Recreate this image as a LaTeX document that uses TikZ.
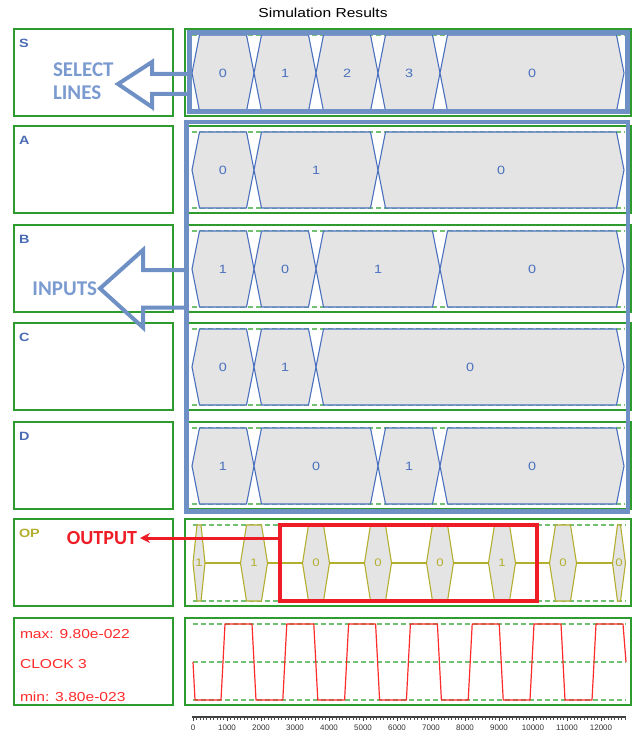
\documentclass[tikz,border=0pt]{standalone}
\usepackage{fontspec}
\setmainfont{Liberation Sans}[FakeStretch=1.2]
\newfontfamily\ejefont{Liberation Sans}
\newfontfamily\notafont{Carlito}
\usetikzlibrary{positioning,arrows.meta}
\definecolor{verde}{HTML}{2E9B2E}
\definecolor{guiaverde}{HTML}{72C072}
\definecolor{azulbus}{HTML}{4A70BE}
\definecolor{grisbus}{HTML}{E4E4E4}
\definecolor{azulmarco}{HTML}{6F90C4}
\definecolor{azulnota}{HTML}{7B9BD0}
\definecolor{azultexto}{HTML}{4A6CB4}
\definecolor{oliva}{HTML}{B4AE2E}
\definecolor{rojo}{HTML}{FF2A2A}
\definecolor{rojocaja}{HTML}{EE1C24}

% one bus row: name, top y, then a/b/value per segment
\newcommand{\busfila}[3]{%
  \draw[guia] (192,#2+6) -- (625,#2+6) (192,#2+82) -- (625,#2+82);
  \foreach \a/\b/\v [count=\i] in {#3}{
    \draw[tramo] (\a,#2+44) -- (\a+7.5,#2+6) -- (\b-7.5,#2+6) -- (\b,#2+44) -- (\b-7.5,#2+82) -- (\a+7.5,#2+82) -- cycle;
    \node[valor] (#1\i) at ({(\a+\b)/2},#2+44) {\v};
  }}

\begin{document}
\begin{tikzpicture}[x=1pt, y=-1pt, node distance=12pt,
  every node/.style={inner sep=0pt, outer sep=0pt},
  caja/.style={draw=verde, line width=1.1pt, minimum width=159pt, minimum height=87pt},
  panel/.style={caja, minimum width=446pt},
  nombre/.style={font=\bfseries\fontsize{12}{14}\selectfont, text=azultexto, anchor=west},
  guia/.style={guiaverde, line width=1.1pt, dash pattern=on 5pt off 3pt},
  tramo/.style={draw=azulbus, fill=grisbus, line width=1.1pt},
  valor/.style={font=\fontsize{12}{14}\selectfont, text=azulbus},
  marco/.style={draw=azulmarco, line width=4.5pt},
  bloque/.style={draw=azulmarco, line width=4pt, line join=miter},
  nota/.style={font=\notafont\bfseries\fontsize{21}{23}\selectfont, text=azulnota},
  tramoop/.style={draw=oliva, fill=grisbus, line width=1.1pt},
  reloj/.style={font=\fontsize{13}{15}\selectfont, text=rojo, anchor=west},
  numero/.style={font=\ejefont\fontsize{8}{9}\selectfont, text=black!80}]
\useasboundingbox (0,0) rectangle (632,733);
\node[font=\fontsize{13}{15}\selectfont] (titulo) at (323,13) {Simulation Results};

% rows
\node[caja] (cS) at (93.5,72.5) {};  \node[panel, right=of cS] (pS) {};
\node[caja] (cA) at (93.5,169.5) {}; \node[panel, right=of cA] (pA) {};
\node[caja] (cB) at (93.5,268.5) {}; \node[panel, right=of cB] (pB) {};
\node[caja] (cC) at (93.5,366.5) {}; \node[panel, right=of cC] (pC) {};
\node[caja] (cD) at (93.5,465.5) {}; \node[panel, right=of cD] (pD) {};
\node[caja] (cO) at (93.5,562.5) {}; \node[panel, right=of cO] (pO) {};
\node[caja] (cK) at (93.5,661.5) {}; \node[panel, right=of cK] (pK) {};

\node[nombre] (nS) at (19,43) {S};
\node[nombre] (nA) at (19,140) {A};
\node[nombre] (nB) at (19,239) {B};
\node[nombre] (nC) at (19,337) {C};
\node[nombre] (nD) at (19,436) {D};
\node[nombre, text=oliva] (nO) at (19,533) {OP};

% buses
\busfila{s}{29}{192/254/0, 254/316/1, 316/378/2, 378/440/3, 440/624/0}
\busfila{a}{126}{192/254/0, 254/378/1, 378/624/0}
\busfila{b}{225}{192/254/1, 254/316/0, 316/440/1, 440/624/0}
\busfila{c}{323}{192/254/0, 254/316/1, 316/624/0}
\busfila{d}{422}{192/254/1, 254/378/0, 378/440/1, 440/624/0}

\node[marco, minimum width=438pt, minimum height=79pt] (mS) at (408.5,72) {};
\node[marco, minimum width=441.5pt, minimum height=389.5pt] (mIn) at (407.25,316.75) {};

% output row
\draw[guia] (193,525) -- (626,525) (193,601) -- (626,601);
\draw[oliva, line width=1.2pt] (193,563) -- (626,563);
\foreach \c/\w/\f/\v [count=\i] in {199/6/2/1, 254/13.5/7.5/1, 316/13.5/7.5/0, 378/13.5/7.5/0, 440/13.5/7.5/0, 502/13.5/7.5/1, 563/13.5/7.5/0, 619/6.5/1.5/0}{
  \draw[tramoop] (\c-\w,563) -- (\c-\f,525) -- (\c+\f,525) -- (\c+\w,563) -- (\c+\f,601) -- (\c-\f,601) -- cycle;
  \node[font=\fontsize{11}{13}\selectfont, text=oliva] (o\i) at (\c,563) {\v};
}
\node[draw=rojocaja, line width=3.5pt, minimum width=257pt, minimum height=76pt] (marcoOP) at (408.5,563) {};

% clock
\draw[guia] (193,624) -- (626,624) (193,662) -- (626,662) (193,700) -- (626,700);
\draw[rojo, line width=1.2pt, line join=round] (193,662) -- (195,700)
  \foreach \k in {0,...,5}{ -- ({221+61.8*\k},700) -- ({225+61.8*\k},624) -- ({252+61.8*\k},624) -- ({256+61.8*\k},700)}
  -- (592,700) -- (596,624) -- (623,624) -- (626,662);
\node[reloj] (cmax) at (20,634) {max: 9.80e-022};
\node[reloj] (cnom) at (20,664) {CLOCK 3};
\node[reloj] (cmin) at (20,697) {min: 3.80e-023};

% time axis
\draw[black!75, line width=1.3pt] (192,717) -- (626,717);
\foreach \i in {0,...,127} \draw[black!70, line width=0.5pt] (193+3.4*\i,717) -- ++(0,2.5);
\foreach \k [evaluate=\k as \t using int(\k*1000)] in {0,...,12}{
  \draw[black!75, line width=0.7pt] (193+34*\k,717) -- ++(0,4);
  \node[numero] (n\k) at (193+34*\k,727.5) {\t};
}

% callouts
\coordinate (selpunta) at (118,84);
\draw[bloque] (mS.west |- selpunta) ++(0,-10) -- ++(-37.5,0) -- ++(0,-12) -- (selpunta) -- ++(34,23) -- ++(0,-13) -- ++(37.5,0);
\node[nota, align=left, anchor=north west] (selec) at (53,63) {SELECT\\LINES};
\coordinate (inpunta) at (100,288.5);
\draw[bloque] (mIn.west |- inpunta) ++(0,-18.5) -- ++(-43.5,0) -- ++(0,-20) -- (inpunta) -- ++(43,39) -- ++(0,-20) -- ++(43.5,0);
\node[nota, anchor=east] (entradas) at (97,288.5) {INPUTS};
\node[font=\notafont\bfseries\fontsize{20}{22}\selectfont, text=rojocaja, anchor=east] (salida) at (137,538) {OUTPUT};
\draw[rojocaja, line width=3pt, -{Stealth[length=10pt,width=10pt]}] (marcoOP.west |- salida.east) -- ([xshift=3pt]salida.east);
\end{tikzpicture}
\end{document}
